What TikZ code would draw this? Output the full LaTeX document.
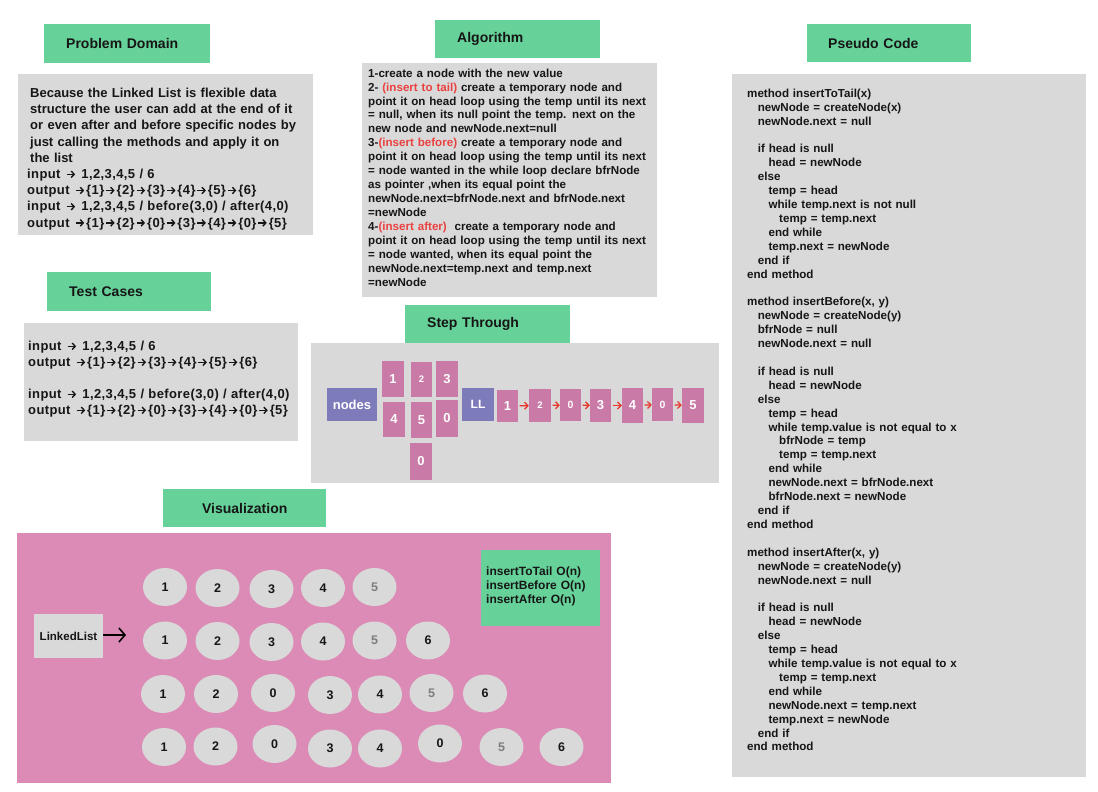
\documentclass[tikz,border=0pt]{standalone}
\usepackage{fontspec}
\setmainfont{Liberation Sans}
\usetikzlibrary{shapes.geometric,arrows.meta}
\definecolor{hdrgreen}{RGB}{102,210,153}
\definecolor{panelgray}{RGB}{217,217,217}
\definecolor{vizpink}{RGB}{219,139,181}
\definecolor{rectpink}{RGB}{201,122,166}
\definecolor{nodepurple}{RGB}{126,123,186}
\definecolor{arrowred}{RGB}{232,52,40}
\definecolor{redtxt}{RGB}{235,64,64}
\definecolor{inktxt}{RGB}{22,22,22}
\definecolor{fainttxt}{RGB}{125,125,125}
\newcommand{\pcI}{\hspace*{10.7pt}}
\newcommand{\pcII}{\hspace*{21.4pt}}
\newcommand{\pcIII}{\hspace*{32pt}}
\newcommand{\rd}[1]{\textcolor{redtxt}{#1}}
\newcommand{\ra}{\hspace{1.1pt}\tikz[baseline=0pt,x=1pt,y=1pt]\draw[inktxt,line width=1.4pt,-{Straight Barb[length=3pt,width=6.5pt]}] (0,4.2) -- (8.5,4.2);\hspace{1.3pt}}
\newcommand{\wideio}[1]{{\addfontfeature{LetterSpace=3}#1}}
\tikzset{
  hdrbox/.style={fill=hdrgreen, anchor=north west, inner xsep=22pt, inner ysep=0pt,
    align=left, font=\fontsize{14}{16}\selectfont\bfseries, text=inktxt},
  panelbox/.style={fill=panelgray, anchor=north west, inner sep=0pt},
  textblock/.style={anchor=base west, inner sep=0pt, align=left, text=inktxt, text width=400pt},
  strect/.style={fill=rectpink, inner sep=0pt, text=white, font=\fontsize{13}{13}\selectfont\bfseries},
  stlabel/.style={fill=nodepurple, inner sep=0pt, text=white, font=\fontsize{13}{13}\selectfont\bfseries},
  linkarrow/.style={draw=arrowred, line width=1.2pt, shorten <=1.5pt, -{Straight Barb[length=3.5pt,width=7pt]}},
  vcirc/.style={ellipse, fill=panelgray, minimum width=44pt, minimum height=38pt, inner sep=0pt,
    font=\fontsize{12.5}{12.5}\selectfont\bfseries}
}
\begin{document}
\begin{tikzpicture}[x=1pt,y=-1pt]
\useasboundingbox (0,0) rectangle (1098,792);

% ---------- Problem Domain ----------
\node[hdrbox, minimum width=166pt, minimum height=39pt, text width=122pt] (pdh) at (44,24) {Problem Domain};
\node[panelbox, minimum width=295pt, minimum height=161pt] (pdp) at (18,74) {};
\node[textblock, font=\fontsize{13}{16.2}\selectfont\bfseries] (pdt) at (30,97.5) {%
Because the Linked List is flexible data\\
structure the user can add at the end of it\\
or even after and before specific nodes by\\
just calling the methods and apply it on\\
the list\\
\hspace*{-3pt}\wideio{input \ra{} 1,2,3,4,5 / 6}\\
\hspace*{-3pt}\wideio{output \ra\{1\}\ra\{2\}\ra\{3\}\ra\{4\}\ra\{5\}\ra\{6\}}\\
\hspace*{-3pt}\wideio{input \ra{} 1,2,3,4,5 / before(3,0) / after(4,0)}\\
\hspace*{-3pt}\wideio{output \ra\{1\}\ra\{2\}\ra\{0\}\ra\{3\}\ra\{4\}\ra\{0\}\ra\{5\}}};

% ---------- Test Cases ----------
\node[hdrbox, minimum width=164pt, minimum height=39pt, text width=120pt, inner xsep=21pt] (tch) at (47,272) {Test Cases};
\node[panelbox, minimum width=274pt, minimum height=118pt] (tcp) at (24,323) {};
\node[textblock, font=\fontsize{13}{16}\selectfont\bfseries] (tct) at (28,350.5) {%
\wideio{input \ra{} 1,2,3,4,5 / 6}\\
\wideio{output \ra\{1\}\ra\{2\}\ra\{3\}\ra\{4\}\ra\{5\}\ra\{6\}}\\[16pt]
\wideio{input \ra{} 1,2,3,4,5 / before(3,0) / after(4,0)}\\
\wideio{output \ra\{1\}\ra\{2\}\ra\{0\}\ra\{3\}\ra\{4\}\ra\{0\}\ra\{5\}}};

% ---------- Algorithm ----------
\node[hdrbox, minimum width=165pt, minimum height=38pt, text width=121pt] (alh) at (435,20) {Algorithm};
\node[panelbox, minimum width=295pt, minimum height=234pt] (alp) at (362,63) {};
\node[textblock, font=\fontsize{11.6}{13.93}\selectfont\bfseries] (alt) at (368,77.2) {%
1-create a node with the new value\\
2- \rd{(insert to tail)} create a temporary node and\\
point it on head loop using the temp until its next\\
= null, when its null point the temp. next on the\\
new node and newNode.next=null\\
3-\rd{(insert before)} create a temporary node and\\
point it on head loop using the temp until its next\\
= node wanted in the while loop declare bfrNode\\
as pointer ,when its equal point the\\
newNode.next=bfrNode.next and bfrNode.next\\
=newNode\\
4-\rd{(insert after)}\ \ create a temporary node and\\
point it on head loop using the temp until its next\\
= node wanted, when its equal point the\\
newNode.next=temp.next and temp.next\\
=newNode};

% ---------- Pseudo Code ----------
\node[hdrbox, minimum width=164pt, minimum height=38pt, text width=122pt, inner xsep=21pt] (pch) at (807,24) {Pseudo Code};
\node[panelbox, minimum width=354pt, minimum height=703pt] (pcp) at (732,74) {};
\node[textblock, font=\fontsize{11.6}{13.91}\selectfont\bfseries] (pct) at (747,97.2) {%
method insertToTail(x)\\
\pcI newNode = createNode(x)\\
\pcI newNode.next = null\\[13.91pt]
\pcI if head is null\\
\pcII head = newNode\\
\pcI else\\
\pcII temp = head\\
\pcII while temp.next is not null\\
\pcIII temp = temp.next\\
\pcII end while\\
\pcII temp.next = newNode\\
\pcI end if\\
end method\\[13.91pt]
method insertBefore(x, y)\\
\pcI newNode = createNode(y)\\
\pcI bfrNode = null\\
\pcI newNode.next = null\\[13.91pt]
\pcI if head is null\\
\pcII head = newNode\\
\pcI else\\
\pcII temp = head\\
\pcII while temp.value is not equal to x\\
\pcIII bfrNode = temp\\
\pcIII temp = temp.next\\
\pcII end while\\
\pcII newNode.next = bfrNode.next\\
\pcII bfrNode.next = newNode\\
\pcI end if\\
end method\\[13.91pt]
method insertAfter(x, y)\\
\pcI newNode = createNode(y)\\
\pcI newNode.next = null\\[13.91pt]
\pcI if head is null\\
\pcII head = newNode\\
\pcI else\\
\pcII temp = head\\
\pcII while temp.value is not equal to x\\
\pcIII temp = temp.next\\
\pcII end while\\
\pcII newNode.next = temp.next\\
\pcII temp.next = newNode\\
\pcI end if\\
end method};

% ---------- Step Through ----------
\node[hdrbox, minimum width=165pt, minimum height=38pt, text width=121pt] (sth) at (405,305) {Step Through};
\node[panelbox, minimum width=408pt, minimum height=140pt] (stp) at (311,343) {};
\node[stlabel, minimum width=50pt, minimum height=33pt] (stnodes) at (352,404.5) {nodes};
\node[strect, minimum width=22pt, minimum height=36pt] (sa1) at (393,379) {1};
\node[strect, minimum width=21pt, minimum height=35pt, font=\fontsize{9.5}{9.5}\selectfont\bfseries] (sa2) at (421.5,379.5) {2};
\node[strect, minimum width=22pt, minimum height=36pt] (sa3) at (447,379) {3};
\node[strect, minimum width=22pt, minimum height=35pt] (sa4) at (394,419.5) {4};
\node[strect, minimum width=21pt, minimum height=36pt] (sa5) at (421.5,420) {5};
\node[strect, minimum width=22pt, minimum height=37pt] (sa6) at (447,418.5) {0};
\node[strect, minimum width=22pt, minimum height=37pt] (sa7) at (421,461.5) {0};
\node[stlabel, minimum width=32pt, minimum height=33pt, font=\fontsize{12}{12}\selectfont\bfseries] (stll) at (478,404.5) {LL};
\node[strect, minimum width=21pt, minimum height=32pt] (sl1) at (507.5,406) {1};
\node[strect, minimum width=22pt, minimum height=33pt, font=\fontsize{9.5}{9.5}\selectfont\bfseries] (sl2) at (540,405.5) {2};
\node[strect, minimum width=21pt, minimum height=32pt, font=\fontsize{10.5}{10.5}\selectfont\bfseries] (sl3) at (570.5,405) {0};
\node[strect, minimum width=21pt, minimum height=33pt] (sl4) at (600.5,405.5) {3};
\node[strect, minimum width=21pt, minimum height=35pt] (sl5) at (632.5,405.5) {4};
\node[strect, minimum width=21pt, minimum height=33pt, font=\fontsize{10.5}{10.5}\selectfont\bfseries] (sl6) at (662.5,404.5) {0};
\node[strect, minimum width=22pt, minimum height=35pt] (sl7) at (693,405.5) {5};
\draw[linkarrow] (sl1) -- (sl2);
\draw[linkarrow] (sl2) -- (sl3);
\draw[linkarrow] (sl3) -- (sl4);
\draw[linkarrow] (sl4) -- (sl5);
\draw[linkarrow] (sl5) -- (sl6);
\draw[linkarrow] (sl6) -- (sl7);

% ---------- Visualization ----------
\node[hdrbox, minimum width=163pt, minimum height=38pt, text width=119pt, align=center] (vih) at (163,489) {Visualization};
\node[fill=vizpink, anchor=north west, inner sep=0pt, minimum width=594pt, minimum height=250pt] (vip) at (17,533) {};
\node[fill=panelgray, inner sep=0pt, minimum width=69pt, minimum height=44pt, text=inktxt,
      font=\fontsize{11.5}{11.5}\selectfont\bfseries] (llbox) at (68.5,636) {LinkedList};
\coordinate (llarrow) at (126,635);
\draw[line width=1.6pt, -{Straight Barb[length=6pt,width=14pt]}] (llbox.east |- llarrow) -- (llarrow);
\node[fill=hdrgreen, anchor=north west, inner sep=0pt, minimum width=119pt, minimum height=76pt] (cbox) at (481,550) {};
\node[textblock, font=\fontsize{12}{14}\selectfont\bfseries] (ctext) at (486,575.3) {%
insertToTail O(n)\\
insertBefore O(n)\\
insertAfter O(n)};
\foreach \px/\py/\lab/\col [count=\i] in {
  165/587/1/inktxt, 217.5/588/2/inktxt, 271.5/589/3/inktxt, 323/588/4/inktxt, 374.5/587/5/fainttxt,
  165/640.5/1/inktxt, 217.5/641/2/inktxt, 271.5/642/3/inktxt, 323/641.5/4/inktxt, 374.5/640.5/5/fainttxt, 428/640.5/6/inktxt,
  163/694/1/inktxt, 216/694/2/inktxt, 273/693/0/inktxt, 330/695/3/inktxt, 380/694.5/4/inktxt, 431.5/693/5/fainttxt, 485/693.5/6/inktxt,
  164/747/1/inktxt, 215.5/746.5/2/inktxt, 274.5/744/0/inktxt, 330/748.5/3/inktxt, 380/748.5/4/inktxt, 440/743.5/0/inktxt, 501.5/747/5/fainttxt, 561.5/747/6/inktxt}
  \node[vcirc, text=\col] (v\i) at (\px,\py) {\lab};
\end{tikzpicture}
\end{document}
